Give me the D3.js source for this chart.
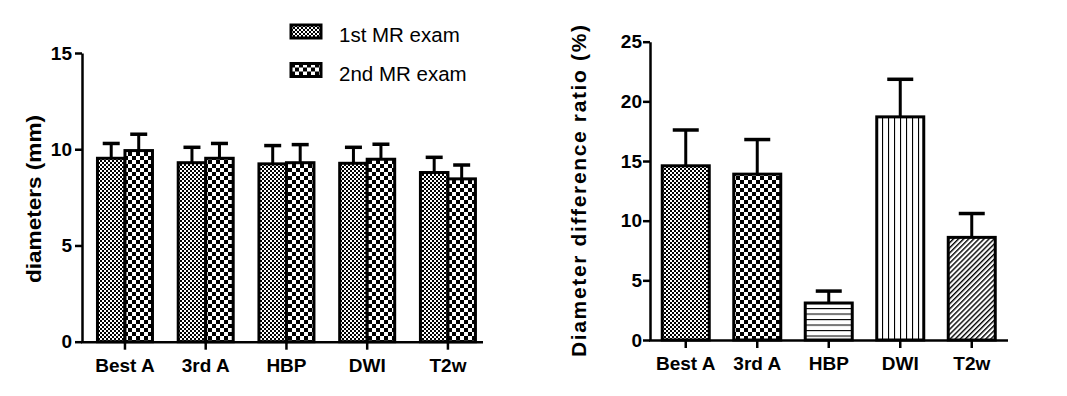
<!DOCTYPE html>
<html>
<head>
<meta charset="utf-8">
<script src="https://cdn.jsdelivr.net/npm/d3@7"></script>
<style>
  body { margin: 0; background: #fff; }
  svg { display: block; font-family: "Liberation Sans", Arial, sans-serif; }
  .tick text { font-family: "Liberation Sans", Arial, sans-serif; font-weight: bold; font-size: 19px; fill: #000; }
</style>
</head>
<body>
<div id="container"></div>
<script>
/* DATA */
const categories = ["Best A", "3rd A", "HBP", "DWI", "T2w"];
const seriesNames = ["1st MR exam", "2nd MR exam"];
// diameters (mm), mean and SD
const exam1Mean = [9.53, 9.30, 9.24, 9.27, 8.79];
const exam1Sd   = [0.77, 0.80, 0.95, 0.83, 0.79];
const exam2Mean = [9.93, 9.53, 9.30, 9.48, 8.46];
const exam2Sd   = [0.85, 0.77, 0.94, 0.78, 0.72];
// diameter difference ratio (%)
const ratioMean = [14.6, 13.9, 3.1, 18.7, 8.6];
const ratioSd   = [3.0, 2.9, 1.0, 3.15, 2.0];
const leftTicks = [0, 5, 10, 15];
const rightTicks = [0, 5, 10, 15, 20, 25];

/* STYLES */
const seriesFill = ["url(#fine)", "url(#check)"];
const ratioFill = ["url(#fine)", "url(#check)", "url(#hlines)", "url(#vlines)", "url(#diag)"];

const width = 1067, height = 396;
const svg = d3.select("#container").append("svg")
  .attr("width", width)
  .attr("height", height);
svg.append("rect").attr("width", width).attr("height", height).attr("fill", "#fff");

// PATTERNS
const defs = svg.append("defs");
const fine = defs.append("pattern").attr("id", "fine").attr("patternUnits", "userSpaceOnUse")
  .attr("width", 4).attr("height", 4);
fine.append("rect").attr("width", 4).attr("height", 4).attr("fill", "#fff");
fine.append("rect").attr("width", 2).attr("height", 2).attr("fill", "#000");
fine.append("rect").attr("x", 2).attr("y", 2).attr("width", 2).attr("height", 2).attr("fill", "#000");

const check = defs.append("pattern").attr("id", "check").attr("patternUnits", "userSpaceOnUse")
  .attr("width", 8).attr("height", 8);
check.append("rect").attr("width", 8).attr("height", 8).attr("fill", "#fff");
check.append("rect").attr("width", 4).attr("height", 4).attr("fill", "#000");
check.append("rect").attr("x", 4).attr("y", 4).attr("width", 4).attr("height", 4).attr("fill", "#000");

const hl = defs.append("pattern").attr("id", "hlines").attr("patternUnits", "userSpaceOnUse")
  .attr("width", 8).attr("height", 5.5);
hl.append("rect").attr("width", 8).attr("height", 5.5).attr("fill", "#fff");
hl.append("line").attr("x1", 0).attr("x2", 8).attr("y1", 0.5).attr("y2", 0.5).attr("stroke", "#000").attr("stroke-width", 1.2);

const vl = defs.append("pattern").attr("id", "vlines").attr("patternUnits", "userSpaceOnUse")
  .attr("width", 6).attr("height", 8);
vl.append("rect").attr("width", 6).attr("height", 8).attr("fill", "#fff");
vl.append("line").attr("y1", 0).attr("y2", 8).attr("x1", 0.5).attr("x2", 0.5).attr("stroke", "#000").attr("stroke-width", 1.2);

const dg = defs.append("pattern").attr("id", "diag").attr("patternUnits", "userSpaceOnUse")
  .attr("width", 3.6).attr("height", 3.6).attr("patternTransform", "rotate(45)");
dg.append("rect").attr("width", 3.6).attr("height", 3.6).attr("fill", "#fff");
dg.append("line").attr("y1", 0).attr("y2", 3.6).attr("x1", 0.7).attr("x2", 0.7).attr("stroke", "#000").attr("stroke-width", 1.4);

function styleAxis(g) {
  g.select(".domain").attr("stroke", "#000").attr("stroke-width", 2.5);
  g.selectAll(".tick line").attr("stroke", "#000").attr("stroke-width", 2.5);
}

/* LEFT CHART */
const xL = d3.scaleBand().domain(categories).range([84.6, 488.3]).padding(0);
const yL = d3.scaleLinear().domain([0, 15]).range([341.7, 53]);
const inner = d3.scaleBand().domain([0, 1]).range([-27.5, 27.5]);

const leftData = categories.map((c, i) => [
  { cat: c, s: 0, mean: exam1Mean[i], sd: exam1Sd[i] },
  { cat: c, s: 1, mean: exam2Mean[i], sd: exam2Sd[i] }
]).flat();

const gL = svg.append("g");
const cx = d => xL(d.cat) + xL.bandwidth() / 2 + inner(d.s) + inner.bandwidth() / 2;

// error bars (upper only)
gL.selectAll("line.err").data(leftData).join("line")
  .attr("x1", cx).attr("x2", cx)
  .attr("y1", d => yL(d.mean)).attr("y2", d => yL(d.mean + d.sd))
  .attr("stroke", "#000").attr("stroke-width", 3);
gL.selectAll("line.cap").data(leftData).join("line")
  .attr("x1", d => cx(d) - 8.5).attr("x2", d => cx(d) + 8.5)
  .attr("y1", d => yL(d.mean + d.sd)).attr("y2", d => yL(d.mean + d.sd))
  .attr("stroke", "#000").attr("stroke-width", 3.5);

gL.selectAll("rect.bar").data(leftData).join("rect")
  .attr("x", d => xL(d.cat) + xL.bandwidth() / 2 + inner(d.s))
  .attr("width", inner.bandwidth())
  .attr("y", d => yL(d.mean))
  .attr("height", d => yL(0) - yL(d.mean))
  .attr("fill", d => seriesFill[d.s])
  .attr("stroke", "#000").attr("stroke-width", 3);

gL.append("g").attr("transform", "translate(82,0)")
  .call(d3.axisLeft(yL).tickValues(leftTicks).tickSize(7).tickPadding(3).tickSizeOuter(0))
  .call(styleAxis);
const xAxL = gL.append("g").attr("transform", `translate(0,${yL(0)})`)
  .call(d3.axisBottom(xL).tickSize(8).tickPadding(9).tickSizeOuter(0))
  .call(styleAxis);
xAxL.select(".domain").attr("d", `M${82 - 1},0.5H483`);

gL.append("text")
  .attr("transform", "translate(41,199) rotate(-90)")
  .attr("text-anchor", "middle")
  .attr("font-size", 21).attr("font-weight", "bold")
  .attr("textLength", 168).attr("lengthAdjust", "spacingAndGlyphs")
  .text("diameters (mm)");

// legend
const leg = gL.selectAll("g.leg").data(seriesNames).join("g")
  .attr("transform", (d, i) => `translate(291,${25 + i * 38.5})`);
leg.append("rect").attr("width", 30).attr("height", 13)
  .attr("fill", (d, i) => seriesFill[i]).attr("stroke", "#000").attr("stroke-width", 3);
leg.append("text").attr("x", 48).attr("y", 17)
  .attr("font-size", 20.5).text(d => d);

/* RIGHT CHART */
const xR = d3.scaleBand().domain(categories).range([650, 1007.5]).padding(0);
const yR = d3.scaleLinear().domain([0, 25]).range([340, 41.7]);
const barW = 47;
const gR = svg.append("g");
const rightData = categories.map((c, i) => ({ cat: c, i: i, mean: ratioMean[i], sd: ratioSd[i] }));
const cxR = d => xR(d.cat) + xR.bandwidth() / 2;

gR.selectAll("line.err").data(rightData).join("line")
  .attr("x1", cxR).attr("x2", cxR)
  .attr("y1", d => yR(d.mean)).attr("y2", d => yR(d.mean + d.sd))
  .attr("stroke", "#000").attr("stroke-width", 3);
gR.selectAll("line.cap").data(rightData).join("line")
  .attr("x1", d => cxR(d) - 13).attr("x2", d => cxR(d) + 13)
  .attr("y1", d => yR(d.mean + d.sd)).attr("y2", d => yR(d.mean + d.sd))
  .attr("stroke", "#000").attr("stroke-width", 3.5);

gR.selectAll("rect.bar").data(rightData).join("rect")
  .attr("x", d => cxR(d) - barW / 2)
  .attr("width", barW)
  .attr("y", d => yR(d.mean))
  .attr("height", d => yR(0) - yR(d.mean))
  .attr("fill", d => ratioFill[d.i])
  .attr("stroke", "#000").attr("stroke-width", 3);

gR.append("g").attr("transform", "translate(650,0)")
  .call(d3.axisLeft(yR).tickValues(rightTicks).tickSize(7).tickPadding(1).tickSizeOuter(0))
  .call(styleAxis);
const xAxR = gR.append("g").attr("transform", `translate(0,${yR(0)})`)
  .call(d3.axisBottom(xR).tickSize(8).tickPadding(9).tickSizeOuter(0))
  .call(styleAxis);
xAxR.select(".domain").attr("d", `M${650 - 1},0.5H1008`);

gR.append("text")
  .attr("transform", "translate(586,191) rotate(-90)")
  .attr("text-anchor", "middle")
  .attr("font-size", 21).attr("font-weight", "bold")
  .attr("textLength", 332).attr("lengthAdjust", "spacing")
  .text("Diameter difference ratio (%)");
</script>
</body>
</html>
